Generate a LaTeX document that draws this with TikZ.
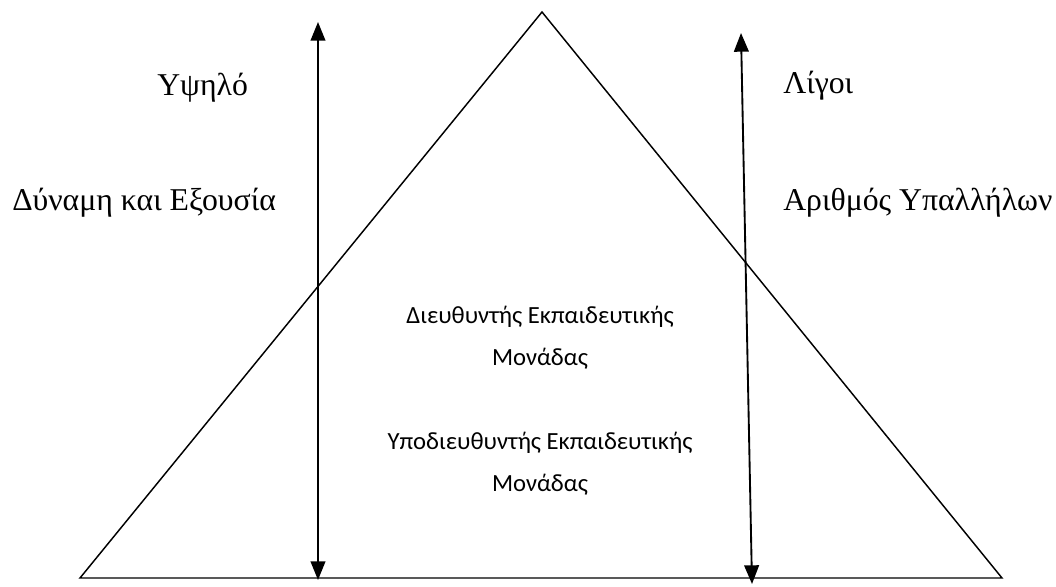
\documentclass[tikz,border=0pt]{standalone}
\usepackage{fontspec}
\setmainfont{Liberation Serif}
\newfontfamily\calibri{Carlito}
\usetikzlibrary{arrows.meta}
\usetikzlibrary{positioning}

\tikzset{
    sidelabel/.style={inner sep=0pt, font=\fontsize{23.8}{28}\selectfont},
    rolelabel/.style={align=center, inner sep=0pt, font=\calibri\fontsize{18.5}{31.5}\selectfont},
    twoway/.style={{Triangle[length=14pt,width=11pt]}-{Triangle[length=14pt,width=11pt]}, line width=1.4pt}
}

\begin{document}
\begin{tikzpicture}[x=0.75pt,y=-0.75pt]
        \useasboundingbox (0,0) rectangle (1056,586);
        % pyramid
        \coordinate (apex) at (542,12);
        \coordinate (bl) at (80,578);
        \coordinate (br) at (1002,578);
        \draw[line width=1.1pt, line join=miter] (bl) -- (apex) -- (br) -- cycle;
        % the two arrows
        \coordinate (la) at (318,22);
        \coordinate (lb) at (318,580);
        \coordinate (ra) at (741,33);
        \coordinate (rb) at (752,584);
        \draw[twoway] (lb) -- (la);
        \draw[twoway] (rb) -- (ra);
        % labels left
        \node[sidelabel, anchor=base west] (high) at (157,95) {Υψηλό};
        \node[sidelabel, anchor=base west] (power) at (12,210) {Δύναμη και Εξουσία};
        % labels right
        \node[sidelabel, anchor=base west] (few) at (783,93) {Λίγοι};
        \node[sidelabel, anchor=base west] (staff) at (783,210) {Αριθμός Υπαλλήλων};
        % inside
        \node[rolelabel] (head) at (540,338) {Διευθυντής Εκπαιδευτικής\\Μονάδας};
        \node[rolelabel] (deputy) at (540,464) {Υποδιευθυντής Εκπαιδευτικής\\Μονάδας};
    \end{tikzpicture}
\end{document}
